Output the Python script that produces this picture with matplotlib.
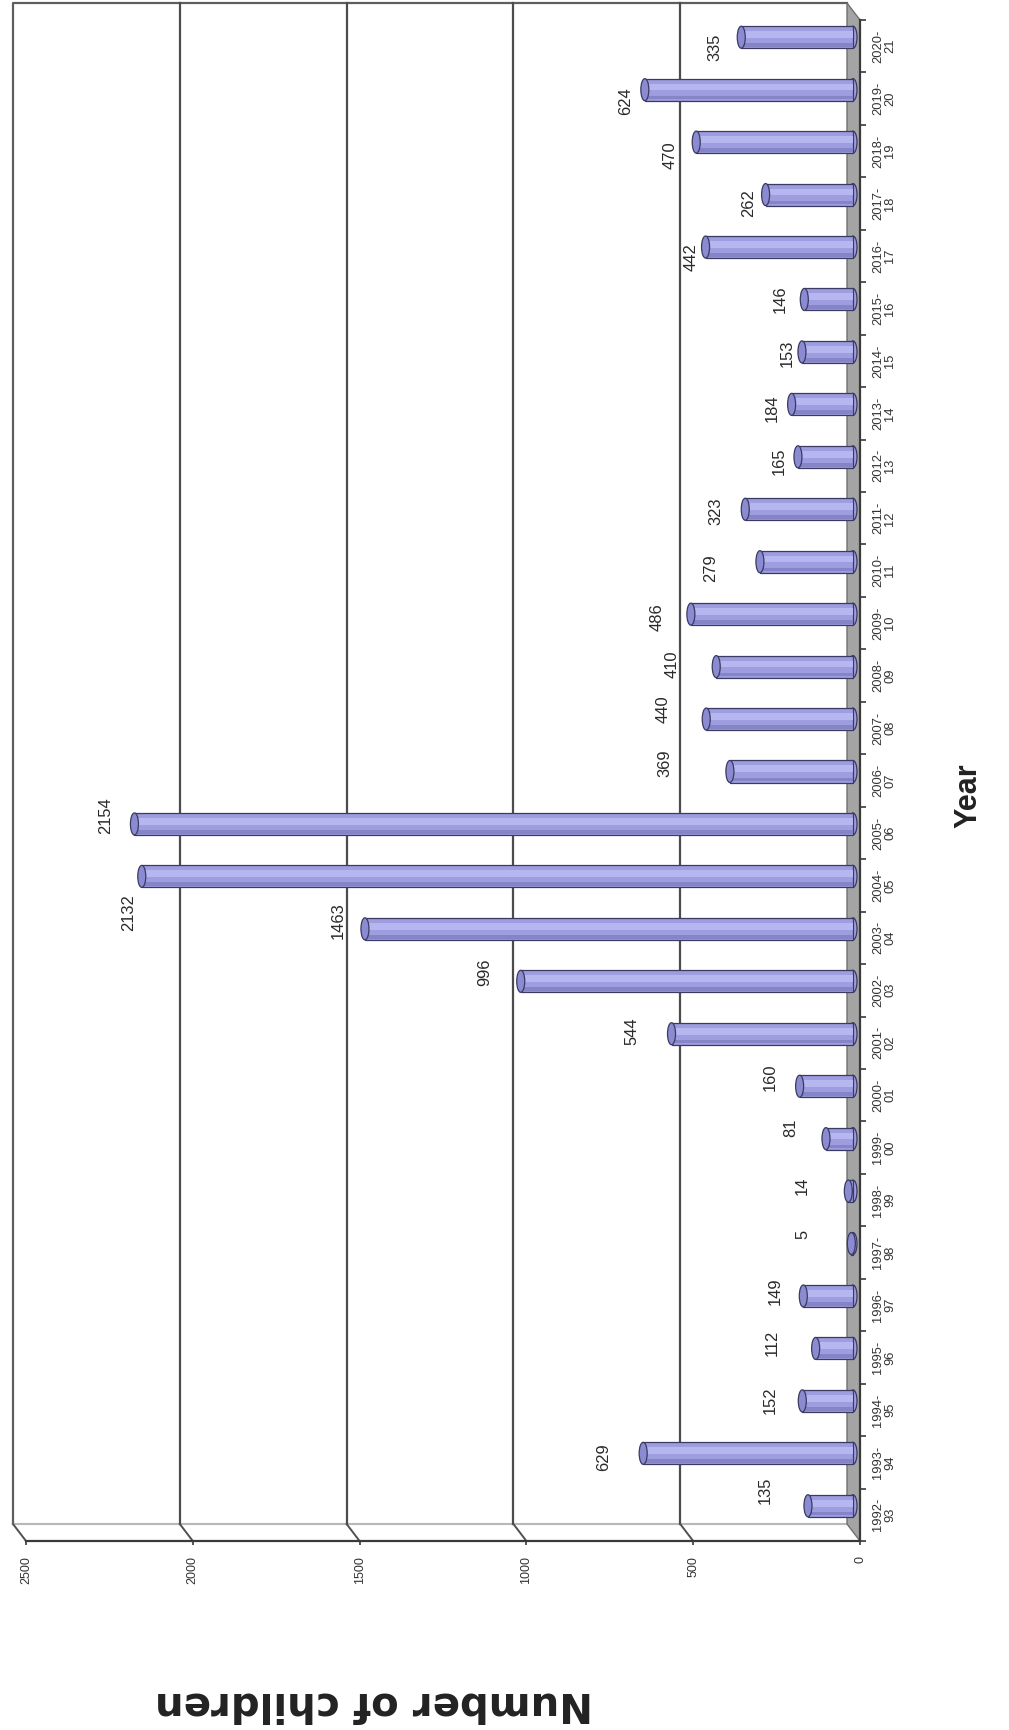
import matplotlib
matplotlib.use('Agg')
import matplotlib.pyplot as plt
import matplotlib.transforms as mtransforms
from matplotlib.patches import Ellipse, Polygon, Rectangle
from matplotlib import font_manager
import numpy as np

# data
years = ['1992-\n93', '1993-\n94', '1994-\n95', '1995-\n96', '1996-\n97', '1997-\n98',
         '1998-\n99', '1999-\n00', '2000-\n01', '2001-\n02', '2002-\n03', '2003-\n04',
         '2004-\n05', '2005-\n06', '2006-\n07', '2007-\n08', '2008-\n09', '2009-\n10',
         '2010-\n11', '2011-\n12', '2012-\n13', '2013-\n14', '2014-\n15', '2015-\n16',
         '2016-\n17', '2017-\n18', '2018-\n19', '2019-\n20', '2020-\n21']
children = [135, 629, 152, 112, 149, 5, 14, 81, 160, 544, 996, 1463, 2132, 2154,
            369, 440, 410, 486, 279, 323, 165, 184, 153, 146, 442, 262, 470, 624, 335]
value_ticks = [0, 500, 1000, 1500, 2000, 2500]

# where each value label sits, in px from the bar tip (right / down positive)
label_nudge = [(-43, -15), (-40, 4), (-32, -1), (-43, -6), (-28, -5), (-48, -9),
               (-46, -5), (-35, -11), (-29, -9), (-40, -3), (-36, -9), (-27, -8),
               (-13, 36), (-29, -8), (-65, -8), (-43, -10), (-44, -2), (-34, 3),
               (-49, 6), (-29, 2), (-19, 4), (-19, 4), (-15, 1), (-24, 0),
               (-14, 10), (-17, 9), (-26, 13), (-19, 11), (-26, 10)]

names = {f.name for f in font_manager.fontManager.ttflist}
if 'Liberation Sans Narrow' in names:
    narrow, k = 'Liberation Sans Narrow', 1.0
else:
    narrow, k = 'Liberation Sans', 0.82

W, H = 1009, 1730
fig = plt.figure(figsize=(W / 100, H / 100), dpi=100)
fig.patch.set_facecolor('white')
ax = fig.add_axes([26 / W, 189 / H, 834 / W, 1521 / H])
n = len(children)
ax.set_xlim(2500, 0)
ax.set_ylim(-0.5, n - 0.5)
ax.patch.set_visible(False)


def shift(dx, dy):
    # offset in image pixels, y pointing down
    return ax.transData + mtransforms.ScaledTranslation(dx / 100, -dy / 100, fig.dpi_scale_trans)


back = shift(-13, -17)
bar_t = shift(-7, -9)
px = mtransforms.IdentityTransform()

# back wall + gridlines
ax.add_patch(Rectangle((0, -0.5), 2500, n, transform=back, fc='white', ec='none',
                       zorder=0, clip_on=False))
ax.plot([2500, 2500, 0], [-0.5, n - 0.5, n - 0.5], transform=back, color='#5e5e5e',
        lw=1.6, clip_on=False, zorder=1)
ax.plot([2500, 0], [-0.5, -0.5], transform=back, color='#b8b8b8', lw=1.5,
        clip_on=False, zorder=1)
for v in value_ticks[1:-1]:
    ax.plot([v, v], [-0.5, n - 0.5], transform=back, color='#4c4c4c', lw=1.6,
            clip_on=False, zorder=1)

# side wall connectors
for v in value_ticks[1:]:
    p0 = back.transform((v, -0.5))
    p1 = ax.transData.transform((v, -0.5))
    ax.plot([p0[0], p1[0]], [p0[1], p1[1]], transform=px, color='#505050', lw=1.4,
            clip_on=False, zorder=1)

# floor
corners = [ax.transData.transform((0, -0.5)), ax.transData.transform((0, n - 0.5)),
           back.transform((0, n - 0.5)), back.transform((0, -0.5))]
ax.add_patch(Polygon(corners, closed=True, transform=px, fc='#a4a4a4', ec='#707070',
                     lw=1.0, zorder=1.5, clip_on=False))

# cylinders
idx = np.arange(n)
body = '#9d9de0'
edge = '#3a3a62'
for i, v in enumerate(children):
    ax.add_patch(Ellipse((0, i), 24, 0.42, transform=bar_t, fc=body, ec=edge, lw=0.9,
                         zorder=2.9, clip_on=False))
bars = ax.barh(idx, children, height=0.42, color=body, edgecolor=edge, linewidth=0.9,
               zorder=3)
hi = ax.barh(idx + 0.05, children, height=0.13, color='#b6b6f0', linewidth=0, zorder=3.1)
lo = ax.barh(idx - 0.15, children, height=0.07, color='#8484c6', linewidth=0, zorder=3.1)
for b in list(bars) + list(hi) + list(lo):
    b.set_transform(bar_t)
    b.set_clip_on(False)
for i, v in enumerate(children):
    ax.add_patch(Ellipse((v, i), 24, 0.42, transform=bar_t, fc='#8b8bd1', ec=edge,
                         lw=0.9, zorder=3.2, clip_on=False))

# value labels
for i, v in enumerate(children):
    dx, dy = label_nudge[i]
    ax.annotate(str(v), xy=(v, i), xycoords=bar_t, xytext=(dx, -dy),
                textcoords='offset pixels', rotation=90, ha='center', va='center',
                fontsize=14.5 * k, family=narrow, color='#2a2a2a', zorder=5)

# axes
for s in ['left', 'top']:
    ax.spines[s].set_visible(False)
for s in ['bottom', 'right']:
    ax.spines[s].set_color('#3a3a3a')
    ax.spines[s].set_linewidth(1.6)
    ax.spines[s].set_zorder(2)

ax.set_xticks(value_ticks)
ax.set_xticklabels([str(v) for v in value_ticks], rotation=90, family=narrow,
                   fontsize=11 * k, color='#333333')
ax.tick_params(axis='x', length=3, width=1.2, color='#3a3a3a', pad=8)

ax.yaxis.tick_right()
ax.set_yticks(idx)
ax.set_yticklabels(years, rotation=90, family=narrow, fontsize=11.3 * k,
                   color='#333333', va='center', linespacing=1.0)
for t in ax.get_yticklabels():
    t.set_multialignment('center')
ax.set_yticks(np.arange(-0.5, n), minor=True)
ax.tick_params(axis='y', which='major', length=0, pad=9)
ax.tick_params(axis='y', which='minor', length=4, width=1.2, color='#3a3a3a')

fig.text(968 / W, 1 - 796 / H, 'Year', rotation=90, ha='center', va='center',
         fontsize=22, fontweight='bold', family='Liberation Sans', color='#222222')
fig.text(593 / W, 1 - 1703 / H, 'Number of children', rotation=180, ha='right',
         va='center', fontsize=29, fontweight='bold', family='DejaVu Sans',
         color='#222222')

fig.savefig('out.png', dpi=100, facecolor='white')
